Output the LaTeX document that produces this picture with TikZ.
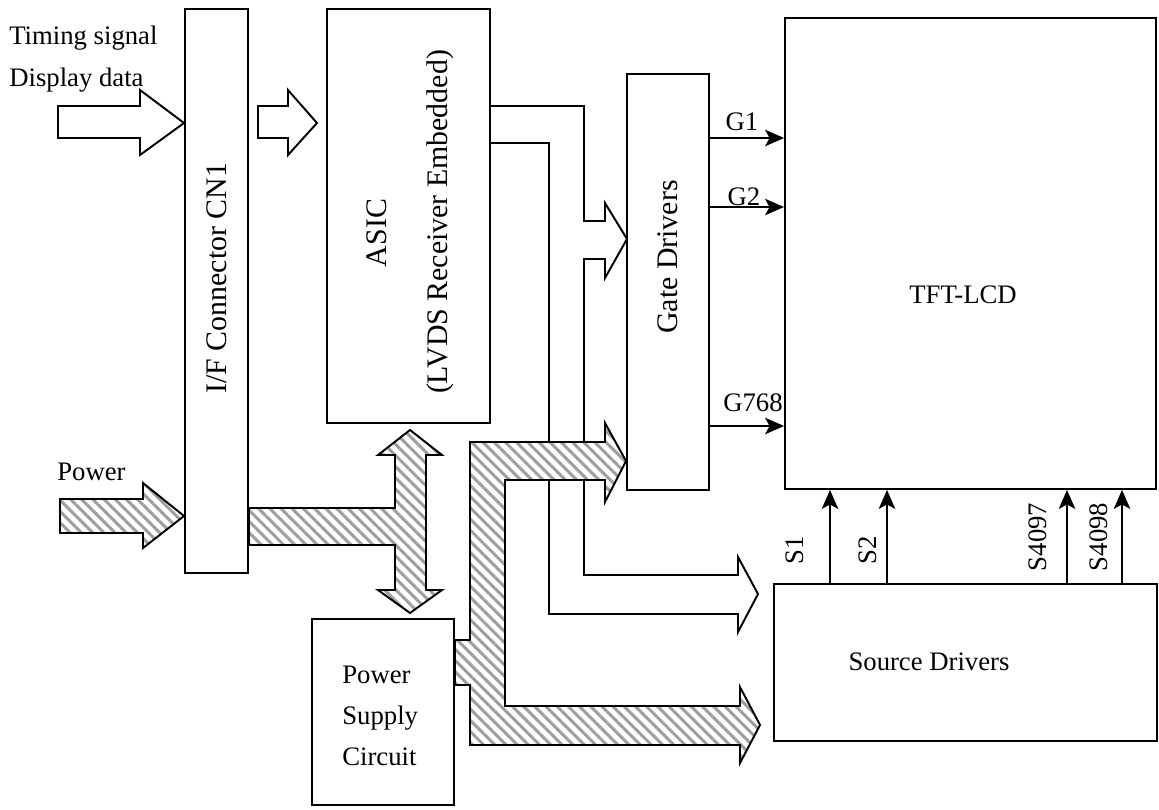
\documentclass[tikz,border=0pt]{standalone}
\usepackage{fontspec}
\setmainfont{Liberation Serif}
\usetikzlibrary{arrows.meta, patterns.meta}

\newcommand{\normsize}{\fontsize{15.2}{18}\selectfont}
\newcommand{\bigsize}{\fontsize{17}{20}\selectfont}

\begin{document}
\begin{tikzpicture}[
    x=0.02cm, y=-0.02cm,
    >={Stealth[length=3.8mm, width=3.3mm, inset=0.9mm]},
    font=\normsize,
    block/.style={draw, line width=1.1pt, inner sep=0pt},
    txt/.style={inner sep=0pt},
    wire/.style={line width=1.1pt, line join=miter},
    hollow/.style={draw, line width=1.1pt, fill=white, line join=miter},
    hatch/.style={draw, line width=1.1pt, line join=miter, preaction={fill=white},
        pattern={Lines[angle=-45, distance=4.5pt, line width=1.7pt]}, pattern color=black!38},
    sig/.style={->, line width=1.1pt},
]

\useasboundingbox (0,0) rectangle (1159,809);

% blocks
\node[block, minimum width=1.26cm, minimum height=11.28cm] (cn1)  at (216.5,291) {};
\node[block, minimum width=3.26cm, minimum height=8.28cm]  (asic) at (408.5,216) {};
\node[block, minimum width=1.64cm, minimum height=8.32cm]  (gate) at (668,282) {};
\node[block, minimum width=7.42cm, minimum height=9.42cm]  (lcd)  at (970.5,253.5) {};
\node[block, minimum width=7.66cm, minimum height=3.14cm]  (src)  at (965.5,662.5) {};
\node[block, minimum width=2.84cm, minimum height=3.72cm]  (psu)  at (383,712) {};

% data wires ASIC -> gate / source
\draw[wire] (asic.east |- 0,106) -| (584,221) -- (605,221) -- (605,203) -- (627,239)
    -- (605,278) -- (605,259) -- (584,259) -- (584,575) -- (738,575) -- (738,557)
    -- (758,594) -- (738,632) -- (738,614) -- (549,614) -- (549,143) -- (asic.east |- 0,143);

% input arrows
\draw[hollow] (58,106) -- (140,106) -- (140,90) -- (cn1.west |- 0,123) -- (140,155) -- (140,138) -- (58,138) -- cycle;
\draw[hollow] (258,106) -- (288,106) -- (288,90) -- (317,123) -- (288,155) -- (288,138) -- (258,138) -- cycle;
\draw[hatch] (60,499) -- (143,499) -- (143,483) -- (cn1.west |- 0,516) -- (143,548) -- (143,533) -- (60,533) -- cycle;

% power distribution
\draw[hatch] (cn1.east |- 0,508) -- (395,508) -- (395,455) -- (378,455) -- (410,430) -- (442,455)
    -- (426,455) -- (426,590) -- (442,590) -- (410,613) -- (378,590) -- (395,590) -- (395,545)
    -- (cn1.east |- 0,545) -- cycle;
\draw[hatch] (psu.east |- 0,640) -- (470,640) -- (470,442) -- (605,442) -- (605,423) -- (gate.west |- 0,461)
    -- (605,502) -- (605,480) -- (505,480) -- (505,706) -- (740,706) -- (740,687) -- (760,725)
    -- (740,763) -- (740,745) -- (470,745) -- (470,685) -- (psu.east |- 0,685) -- cycle;

% gate lines
\foreach \y in {138, 207, 426}
    \draw[sig] (gate.east |- 0,\y) -- (lcd.west |- 0,\y);

% source lines
\foreach \x in {830, 887, 1067, 1122}
    \draw[sig] (src.north -| \x,0) -- (lcd.south -| \x,0);

% labels
\node[txt, anchor=west] (timing) at (9,38) {Timing signal};
\node[txt, anchor=west] (disp)   at (9,80) {Display data};
\node[txt, anchor=west] (pwr)    at (57,472) {Power};
\node[txt, rotate=90, font=\bigsize] (cn1txt)  at (217,278) {I/F Connector CN1};
\node[txt, rotate=90, font=\bigsize] (asictxt) at (377,233) {ASIC};
\node[txt, rotate=90, font=\bigsize] (lvds)    at (440,222) {(LVDS Receiver Embedded)};
\node[txt, rotate=90, font=\bigsize] (gatetxt) at (668,257) {Gate Drivers};
\node[txt] (lcdtxt) at (963,295) {TFT-LCD};
\node[txt] (srctxt) at (929,662) {Source Drivers};
\node[txt, anchor=west, align=left, font=\fontsize{15.2}{23.2}\selectfont] (psutxt) at (342,716) {Power\\Supply\\Circuit};
\node[txt] (g1)   at (742,122) {G1};
\node[txt] (g2)   at (744,197) {G2};
\node[txt] (g768) at (753,403) {G768};
\node[txt, rotate=90] (s1)    at (795,550) {S1};
\node[txt, rotate=90] (s2)    at (868,550) {S2};
\node[txt, rotate=90] (s4097) at (1038,537) {S4097};
\node[txt, rotate=90] (s4098) at (1099,537) {S4098};

\end{tikzpicture}
\end{document}
